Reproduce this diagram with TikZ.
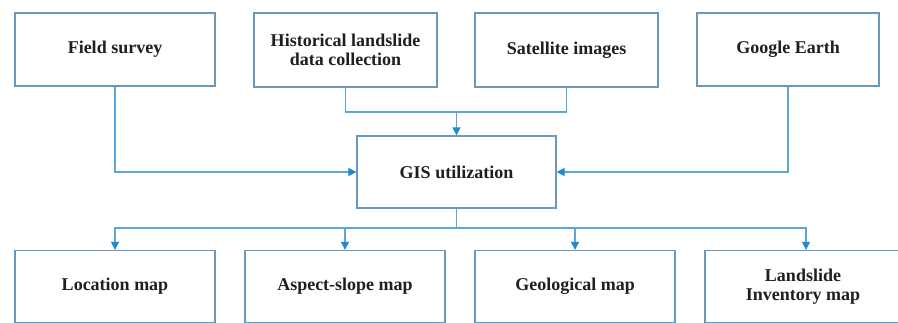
\documentclass[tikz,border=0pt]{standalone}
\usepackage{fontspec}
\setmainfont{Liberation Serif}
\usetikzlibrary{arrows.meta}
\definecolor{boxc}{HTML}{6A98BC}
\definecolor{linec}{HTML}{5BA6D8}
\definecolor{tipc}{HTML}{2089D0}
\tikzset{
  box/.style={draw=boxc, line width=1.2pt, fill=white, inner sep=0pt, align=center,
    font=\fontsize{18}{19.5}\selectfont\bfseries, text=black!88},
  conn/.style={draw=linec, line width=1.1pt},
  arr/.style={conn, -{Triangle[length=8pt,width=8pt,fill=tipc,color=tipc]}}
}
\begin{document}
\begin{tikzpicture}[x=1pt,y=-1pt]
\useasboundingbox (0,0) rectangle (898,323);
\node[box, minimum width=200pt, minimum height=73pt] (field) at (115,49.5) {Field survey};
\node[box, minimum width=183pt, minimum height=74pt] (hist) at (345.5,50) {Historical landslide\\data collection};
\node[box, minimum width=183pt, minimum height=74pt] (sat) at (566.5,50) {Satellite images};
\node[box, minimum width=182pt, minimum height=73pt] (google) at (788,49.5) {Google Earth};
\node[box, minimum width=199pt, minimum height=72pt] (gis) at (456.5,172) {GIS utilization};
\node[box, minimum width=200pt, minimum height=72pt] (loc) at (115,286.5) {Location map};
\node[box, minimum width=200pt, minimum height=72pt] (asp) at (345,286.5) {Aspect-slope map};
\node[box, minimum width=200pt, minimum height=72pt] (geo) at (575,286.5) {Geological map};
\node[box, minimum width=196pt, minimum height=72pt] (inv) at (803,286.5) {Landslide\\Inventory map};
\coordinate (j) at (456.5,112);
\coordinate (k) at (456.5,228);
\draw[arr] (field.south) |- (gis.west);
\draw[arr] (google.south) |- (gis.east);
\draw[conn] (hist.south) |- (j) -| (sat.south);
\draw[arr] (j) -- (gis.north);
\draw[conn] (gis.south) -- (k);
\draw[arr] (k) -| (loc.north);
\draw[arr] (k) -| (asp.north);
\draw[arr] (k) -| (geo.north);
\draw[arr] (k) -| ([xshift=3pt]inv.north);
\end{tikzpicture}
\end{document}
